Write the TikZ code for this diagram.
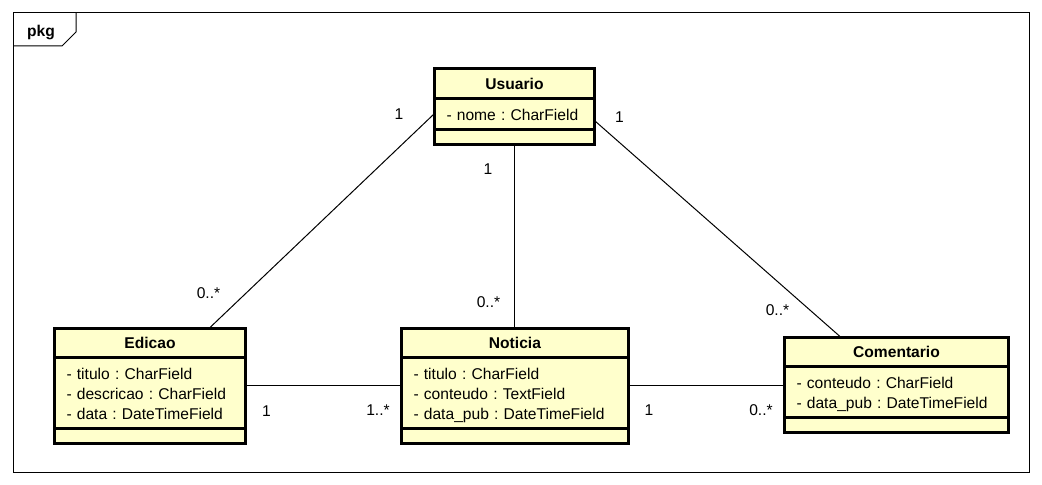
\documentclass[tikz,border=0pt]{standalone}
\usepackage{fontspec}
\setmainfont{Liberation Sans}
\usetikzlibrary{shapes.multipart,positioning}

\definecolor{classfill}{RGB}{255,255,204}
\newcommand{\umlfont}{\fontsize{11.7}{15}\selectfont\frenchspacing}
\newcommand{\classname}[1]{\hfill\textbf{#1}\rule[-3pt]{0pt}{13.9pt}\hfill\null}
\newcommand{\fieldstrut}{\rule[-3pt]{0pt}{15pt}}
\tikzset{
  umlclass/.style={rectangle split, rectangle split parts=3, draw, line width=0.75pt,
    fill=classfill, text width=#1, inner xsep=9pt, inner ysep=3.75pt, align=left,
    anchor=north, font=\umlfont, postaction={draw, line width=2.25pt}},
  mult/.style={font=\umlfont, inner sep=0pt},
  assoc/.style={line width=0.75pt},
  frame/.style={line width=0.75pt},
}

\begin{document}
\begin{tikzpicture}[x=0.75pt,y=-0.75pt]
\useasboundingbox (0,0) rectangle (1042,485);
% package frame
\draw[frame] (13,13) rectangle (1029,472);
\draw[frame] (13,46) -- (62,46) -- (76,32) -- (76,13);
\node[font=\bfseries\umlfont, inner sep=0pt] (pkg) at (41,33) {pkg};

% classes
\node[umlclass=102pt] (usuario) at (514.5,68.5)
  {\classname{Usuario}
   \nodepart{two} - nome : CharField\fieldstrut
   \nodepart{three} \rule{0pt}{2.6pt}};
\node[umlclass=125.25pt] (edicao) at (150,327.5)
  {\classname{Edicao}
   \nodepart{two} - titulo : CharField\fieldstrut\\
   - descricao : CharField\fieldstrut\\
   - data : DateTimeField\fieldstrut
   \nodepart{three} \rule{0pt}{2.6pt}};
\node[umlclass=152.25pt] (noticia) at (515,327.5)
  {\classname{Noticia}
   \nodepart{two} - titulo : CharField\fieldstrut\\
   - conteudo : TextField\fieldstrut\\
   - data\_pub : DateTimeField\fieldstrut
   \nodepart{three} \rule{0pt}{2.6pt}};
\node[umlclass=150pt] (comentario) at (896.5,336.5)
  {\classname{Comentario}
   \nodepart{two} - conteudo : CharField\fieldstrut\\
   - data\_pub : DateTimeField\fieldstrut
   \nodepart{three} \rule{0pt}{2.6pt}};

% associations
\draw[assoc] ([shift={(0,7.5)}]usuario.west) -- ([shift={(60,0)}]edicao.north)
  node[mult,at start,shift={(-35,0)}] {1}
  node[mult,at end,shift={(-1.5,-34.5)}] {0..*};
\draw[assoc] (usuario.south) -- (usuario.south |- noticia.north)
  node[mult,at start,shift={(-26.5,25)}] {1}
  node[mult,at end,shift={(-26,-25.5)}] {0..*};
\draw[assoc] ([shift={(0,14.5)}]usuario.east) -- ([shift={(-56.5,0)}]comentario.north)
  node[mult,at start,shift={(24.5,-4)}] {1}
  node[mult,at end,shift={(-62.5,-26.5)}] {0..*};
\draw[assoc] (edicao.east) -- (noticia.west)
  node[mult,at start,shift={(20.5,25.5)}] {1}
  node[mult,at end,shift={(-23,25)}] {1..*};
\draw[assoc] (noticia.east) -- (noticia.east -| comentario.west)
  node[mult,at start,shift={(20,25)}] {1}
  node[mult,at end,shift={(-23,25)}] {0..*};
\end{tikzpicture}
\end{document}
